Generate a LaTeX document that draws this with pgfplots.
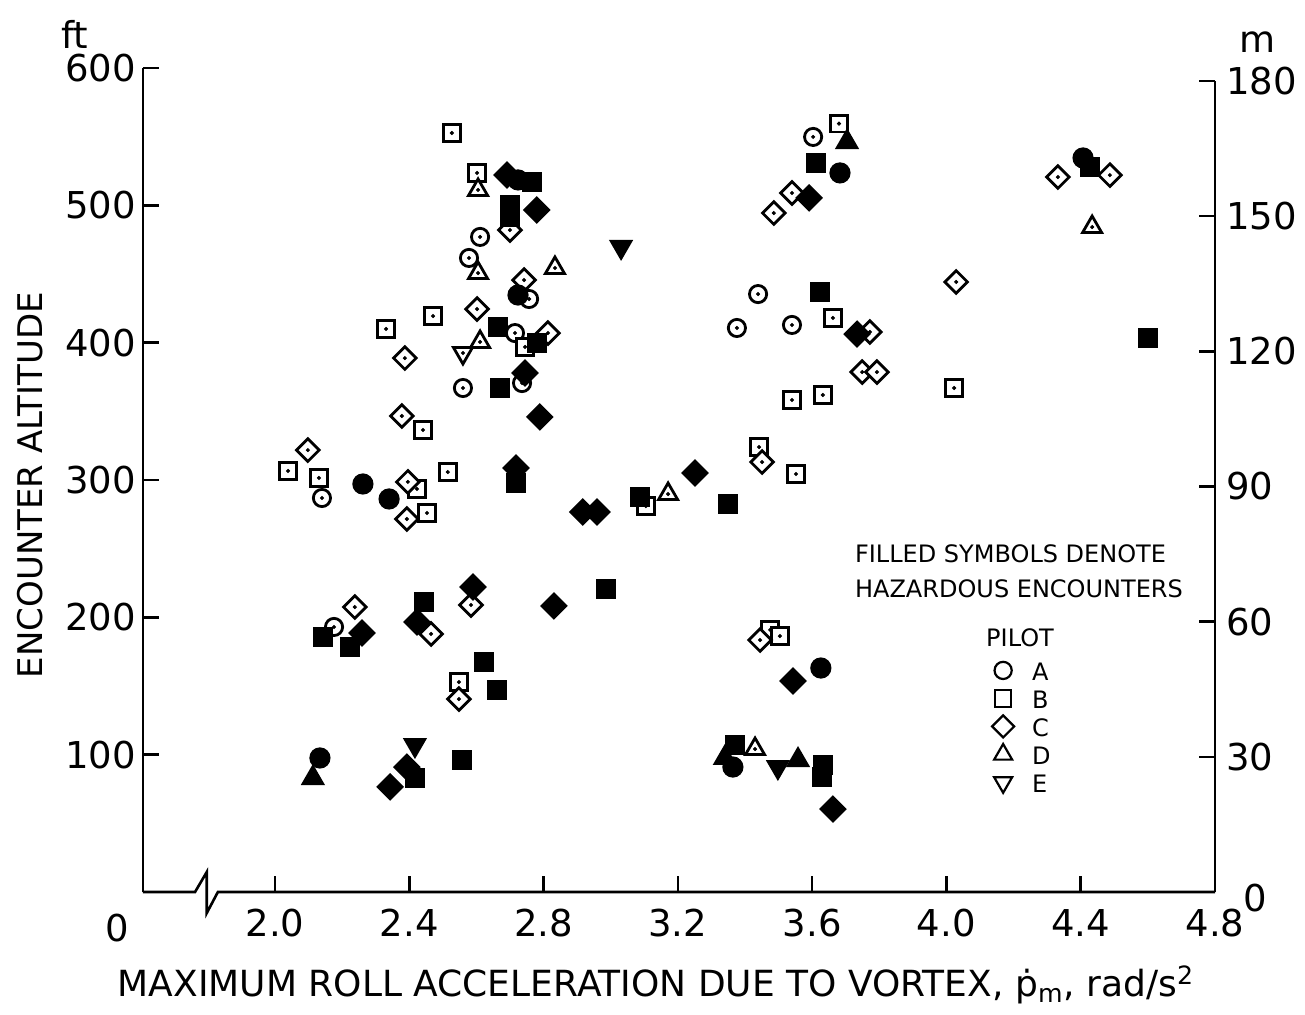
\documentclass[border=0pt]{standalone}
\usepackage{fontspec}
\setmainfont{DejaVu Sans}
\usepackage{pgfplots}
\usepackage{pgfplotstable}
\pgfplotsset{compat=1.18}

% pilot A (circles)
\pgfplotstableread{
x y
3.603 549.8
2.611 477.0
2.578 461.7
2.757 431.8
3.439 435.4
3.376 410.7
3.540 412.9
2.560 367.0
2.715 407.0
2.736 370.6
2.140 286.9
2.176 193.0
}\Aopen
\pgfplotstableread{
x y
4.407 534.5
3.683 523.6
2.724 434.7
2.262 297.1
2.340 286.2
2.134 97.6
3.626 163.1
3.364 91.0
2.724 518.5
}\Afill
% pilot B (squares)
\pgfplotstableread{
x y
2.527 552.7
2.602 523.6
3.680 559.5
3.662 418.0
2.471 419.4
2.331 410.0
2.441 336.4
2.039 306.6
2.131 301.5
2.423 293.5
2.515 305.8
2.453 276.0
3.540 358.3
3.632 361.9
3.442 324.0
3.552 304.4
3.105 281.0
4.023 367.0
3.475 190.8
3.504 186.4
2.548 152.9
2.745 396.9
}\Bopen
\pgfplotstableread{
x y
3.612 530.8
3.624 436.9
4.428 528.0
4.601 403.4
2.766 517.0
2.700 500.3
2.700 491.5
2.664 411.4
2.780 399.8
2.670 367.0
2.718 297.8
3.087 287.6
3.349 282.5
2.986 220.6
2.143 185.7
2.223 178.4
2.444 211.2
2.623 167.5
2.661 147.1
2.557 96.1
2.417 83.0
3.370 107.0
3.632 92.5
3.629 83.7
}\Bfill
% pilot C (diamonds)
\pgfplotstableread{
x y
4.332 520.6
4.487 522.0
3.540 509.0
3.486 494.4
2.700 482.0
2.742 445.6
2.602 424.5
2.813 407.0
2.387 388.8
2.378 346.6
2.098 321.8
2.396 298.6
2.393 271.6
4.029 444.2
3.772 407.8
3.749 378.6
3.793 378.6
3.451 313.1
2.238 207.5
2.465 187.9
2.584 209.0
2.548 140.5
3.445 183.5
}\Copen
\pgfplotstableread{
x y
2.691 522.1
2.780 496.6
3.591 505.4
3.734 406.3
2.745 377.9
2.789 345.9
2.718 308.7
3.251 305.1
2.917 276.7
2.959 276.7
2.259 188.6
2.423 196.6
2.590 222.1
2.831 208.3
3.543 153.6
2.393 91.0
2.343 76.5
3.662 60.4
}\Cfill
% pilot D (triangles)
\pgfplotstableread{
x y
2.605 511.2
2.605 450.7
2.834 454.4
2.611 400.5
4.434 484.2
3.171 289.8
3.430 104.1
}\Dopen
\pgfplotstableread{
x y
3.704 546.1
2.113 83.0
3.340 97.6
3.558 96.1
}\Dfill
% pilot E (inverted triangles)
\pgfplotstableread{
x y
2.560 392.5
}\Eopen
\pgfplotstableread{
x y
3.031 469.7
2.417 107.0
3.498 91.0
}\Efill

\pgfplotsset{
  op/.style={only marks, forget plot},
  fl/.style={only marks, forget plot},
  dt/.style={only marks, forget plot, mark=*, mark size=0.8pt, black},
}

\begin{document}
\begin{tikzpicture}
\path[use as bounding box] (-71.5pt,-61pt) rectangle (581pt,446pt);
\begin{axis}[
  scale only axis, width=536pt, height=412pt,
  xmin=1.607, xmax=4.8, ymin=0, ymax=600,
  axis y line*=left, axis x line*=bottom,
  x axis line style={draw=none},
  y axis line style={line width=1.3pt},
  tick align=inside, major tick length=8pt,
  tick style={line width=1.3pt, black},
  xtick={2,2.4,2.8,3.2,3.6,4,4.4,4.8},
  xticklabels={2.0,2.4,2.8,3.2,3.6,4.0,4.4,4.8},
  ytick={100,200,300,400,500,600},
  yticklabels={100,200,300,400,500,600},
  ticklabel style={font=\fontsize{18.5}{20}\selectfont},
  xticklabel style={yshift=-5pt},
  clip=false,
  legend style={draw=none, fill=none, at={(rel axis cs:0.7917,0.2864)}, anchor=north west,
    inner sep=0pt, row sep=0pt, font=\fontsize{12}{14}\selectfont,
    nodes={inner ysep=2pt, text height=10pt, text depth=0pt},
    /tikz/every odd column/.append style={column sep=7pt}},
  legend cell align=left,
]
\addplot[op, mark=*, mark size=4.3pt, mark options={draw=black, fill=white, line width=1.4pt}] table {\Aopen};
\addplot[dt] table {\Aopen};
\addplot[op, mark=square*, mark size=4.2pt, mark options={draw=black, fill=white, line width=1.4pt}] table {\Bopen};
\addplot[dt] table {\Bopen};
\addplot[op, mark=square*, mark size=4.0pt, mark options={draw=black, fill=white, line width=1.4pt, rotate=45}] table {\Copen};
\addplot[dt] table {\Copen};
\addplot[op, mark=triangle*, mark size=5.5pt, mark options={draw=black, fill=white, line width=1.4pt}] table {\Dopen};
\addplot[dt] table {\Dopen};
\addplot[op, mark=triangle*, mark size=5.5pt, mark options={draw=black, fill=white, line width=1.4pt, rotate=180}] table {\Eopen};
\addplot[dt] table {\Eopen};

\addplot[fl, mark=*, mark size=4.8pt, mark options={draw=black, fill=black, line width=1pt}] table {\Afill};
\addplot[fl, mark=square*, mark size=4.6pt, mark options={draw=black, fill=black, line width=1pt}] table {\Bfill};
\addplot[fl, mark=square*, mark size=4.4pt, mark options={draw=black, fill=black, line width=1pt, rotate=45}] table {\Cfill};
\addplot[fl, mark=triangle*, mark size=6pt, mark options={draw=black, fill=black, line width=1pt}] table {\Dfill};
\addplot[fl, mark=triangle*, mark size=6pt, mark options={draw=black, fill=black, line width=1pt, rotate=180}] table {\Efill};

\addlegendimage{only marks, mark=o, mark size=4.3pt, mark options={line width=1.1pt}}
\addlegendentry{A}
\addlegendimage{only marks, mark=square, mark size=4.1pt, mark options={line width=1.1pt}}
\addlegendentry{B}
\addlegendimage{only marks, mark=square, mark size=3.9pt, mark options={line width=1.1pt, rotate=45}}
\addlegendentry{C}
\addlegendimage{only marks, mark=triangle, mark size=5.2pt, mark options={line width=1.1pt}}
\addlegendentry{D}
\addlegendimage{only marks, mark=triangle, mark size=5.2pt, mark options={line width=1.1pt, rotate=180}}
\addlegendentry{E}

% x axis line with break
\draw[line width=1.3pt, line join=miter] (axis cs:1.607,0) -- (axis cs:1.762,0) -- (axis cs:1.797,14.6)
  -- (axis cs:1.797,-15.3) -- (axis cs:1.830,0) -- (axis cs:4.8,0);

\node[font=\fontsize{18.5}{20}\selectfont] at ([xshift=-13pt,yshift=-18pt]rel axis cs:0,0) {0};
\node[font=\fontsize{18.5}{20}\selectfont] at ([xshift=-34pt,yshift=17pt]rel axis cs:0,1) {ft};
\node[font=\fontsize{18.5}{20}\selectfont] at ([xshift=21.5pt,yshift=13pt]rel axis cs:1,1) {m};
\node[font=\fontsize{18.5}{20}\selectfont] at ([xshift=20pt,yshift=-3pt]rel axis cs:1,0) {0};
\node[font=\fontsize{18}{20}\selectfont] at ([xshift=256.5pt,yshift=-46.5pt]rel axis cs:0,0)
  {MAXIMUM ROLL ACCELERATION DUE TO VORTEX, \.{p}\textsubscript{m}, rad/s\textsuperscript{2}};
\node[rotate=90, font=\fontsize{17}{18}\selectfont] at ([xshift=-56.5pt,yshift=203.5pt]rel axis cs:0,0)
  {ENCOUNTER ALTITUDE};
\node[anchor=base west, font=\fontsize{12}{14}\selectfont] at ([xshift=352.5pt,yshift=165pt]rel axis cs:0,0)
  {FILLED SYMBOLS DENOTE};
\node[anchor=base west, font=\fontsize{12}{14}\selectfont] at ([xshift=352.5pt,yshift=147.5pt]rel axis cs:0,0)
  {HAZARDOUS ENCOUNTERS};
\node[anchor=base, font=\fontsize{12}{14}\selectfont] at ([xshift=438.5pt,yshift=123pt]rel axis cs:0,0)
  {PILOT};
\end{axis}
\begin{axis}[
  scale only axis, width=536pt, height=405.52pt,
  xmin=1.607, xmax=4.8, ymin=0, ymax=180,
  axis y line*=right, axis x line=none,
  y axis line style={line width=1.3pt},
  tick align=inside, major tick length=8pt,
  tick style={line width=1.3pt, black},
  ytick={0,30,60,90,120,150,180},
  yticklabels={,30,60,90,120,150,180},
  ticklabel style={font=\fontsize{18.5}{20}\selectfont},
  yticklabel style={xshift=2pt},
]
\end{axis}
\end{tikzpicture}
\end{document}
